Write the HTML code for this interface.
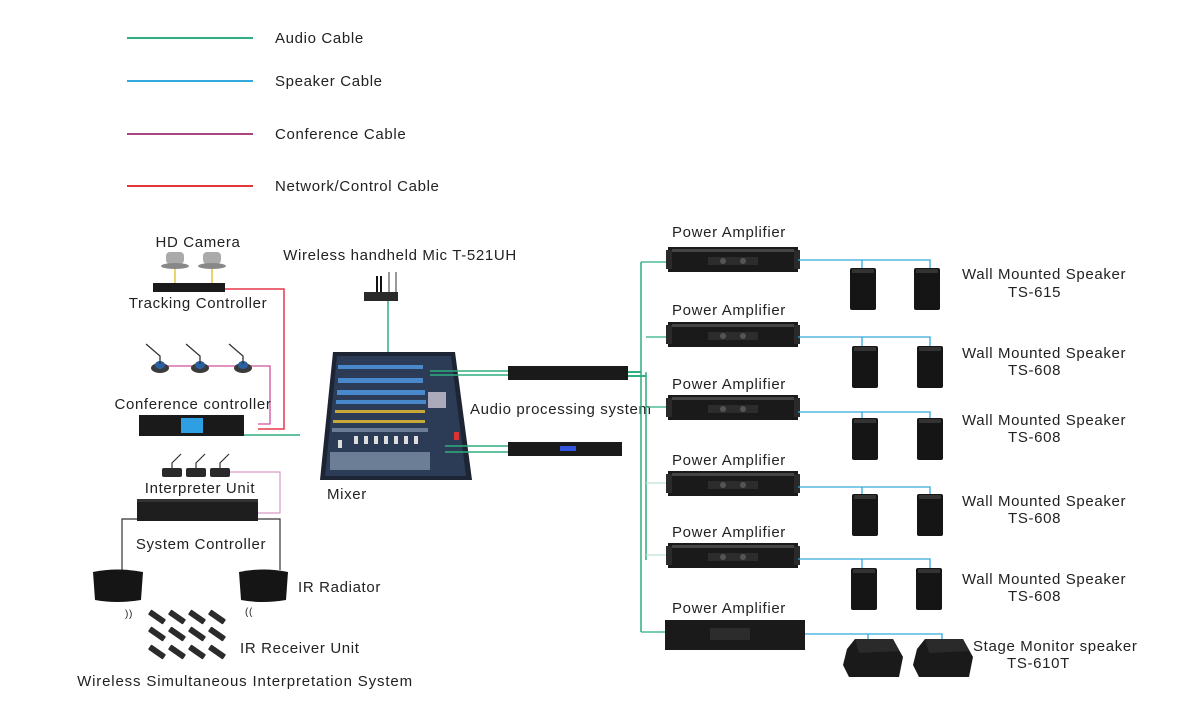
<!DOCTYPE html>
<html><head><meta charset="utf-8"><style>
html,body{margin:0;padding:0;background:#fff;}
svg{display:block;}
text{font-family:"Liberation Sans",sans-serif;font-size:15px;fill:#222;letter-spacing:0.65px;}
</style></head><body>
<svg width="1200" height="726" viewBox="0 0 1200 726" xmlns="http://www.w3.org/2000/svg">
<defs>
<g id="amp">
<rect x="0" y="0" width="130" height="25" fill="#1a1a1a"/>
<rect x="-2" y="3" width="6" height="19" fill="#2a2a2a"/>
<rect x="126" y="3" width="6" height="19" fill="#2a2a2a"/>
<rect x="4" y="2" width="122" height="3" fill="#444"/>
<rect x="40" y="10" width="50" height="8" fill="#2c2c2c"/>
<circle cx="55" cy="14" r="3" fill="#555"/><circle cx="75" cy="14" r="3" fill="#555"/>
</g>
<g id="spk">
<rect x="0" y="0" width="26" height="42" rx="2" fill="#151515"/>
<rect x="2" y="1" width="22" height="4" fill="#333"/>
</g>
<g id="mon">
<path d="M4 10 L12 0 L50 0 L60 18 L56 38 L6 38 L0 26 Z" fill="#1a1a1a"/>
<path d="M12 0 L50 0 L56 12 L16 14 Z" fill="#2a2a2a"/>
</g>
<g id="rcv">
<rect x="-9" y="-3" width="18" height="6" rx="1" fill="#2b2b2b" transform="rotate(35)"/>
</g>
<g id="cmic">
<ellipse cx="0" cy="8" rx="9" ry="5" fill="#3a3a3a"/>
<ellipse cx="0" cy="5" rx="5" ry="4" fill="#2a5fa0"/>
<path d="M0 4 L0 -4 L-14 -16" stroke="#333" stroke-width="1.3" fill="none"/>
</g>
<g id="imic">
<rect x="-10" y="0" width="20" height="9" rx="2" fill="#2a2a2a"/>
<path d="M0 1 L0 -5 L9 -14" stroke="#333" stroke-width="1.2" fill="none"/>
</g>
</defs>

<!-- legend -->
<line x1="127" y1="38" x2="253" y2="38" stroke="#2fae7f" stroke-width="2"/>
<line x1="127" y1="81" x2="253" y2="81" stroke="#33a9dd" stroke-width="2"/>
<line x1="127" y1="134" x2="253" y2="134" stroke="#a8447f" stroke-width="2"/>
<line x1="127" y1="186" x2="253" y2="186" stroke="#e2363d" stroke-width="2"/>
<text x="275" y="43">Audio Cable</text>
<text x="275" y="86">Speaker Cable</text>
<text x="275" y="139">Conference Cable</text>
<text x="275" y="191">Network/Control Cable</text>

<!-- HD camera / tracking -->
<text x="198" y="247" text-anchor="middle">HD Camera</text>
<g fill="#aaa"><rect x="166" y="252" width="18" height="12" rx="4"/><rect x="203" y="252" width="18" height="12" rx="4"/>
<ellipse cx="175" cy="266" rx="14" ry="3" fill="#888"/><ellipse cx="212" cy="266" rx="14" ry="3" fill="#888"/></g>
<line x1="175" y1="269" x2="175" y2="284" stroke="#e8c23a" stroke-width="1.5"/>
<line x1="212" y1="269" x2="212" y2="284" stroke="#e8c23a" stroke-width="1.5"/>
<rect x="153" y="283" width="72" height="9" fill="#1a1a1a"/>
<text x="198" y="308" text-anchor="middle">Tracking Controller</text>
<polyline points="225,289 284,289 284,429 258,429" fill="none" stroke="#e6384a" stroke-width="1.5"/>

<!-- conference -->
<polyline points="160,366 270,366 270,424 258,424" fill="none" stroke="#d0509a" stroke-width="1.3"/>
<use href="#cmic" x="160" y="360"/><use href="#cmic" x="200" y="360"/><use href="#cmic" x="243" y="360"/>
<text x="193" y="409" text-anchor="middle">Conference  controller</text>
<rect x="139" y="415" width="105" height="21" fill="#1a1a1a"/>
<rect x="181" y="418" width="22" height="15" fill="#2f9fe3"/>
<line x1="244" y1="435" x2="300" y2="435" stroke="#2fae7f" stroke-width="1.5"/>

<!-- wireless mic -->
<text x="400" y="260" text-anchor="middle">Wireless handheld Mic T-521UH</text>
<rect x="364" y="292" width="34" height="9" fill="#2a2a2a"/>
<line x1="377" y1="276" x2="377" y2="292" stroke="#111" stroke-width="2"/>
<line x1="381" y1="276" x2="381" y2="292" stroke="#111" stroke-width="2"/>
<line x1="389" y1="272" x2="389" y2="292" stroke="#333" stroke-width="1"/>
<line x1="396" y1="272" x2="396" y2="292" stroke="#333" stroke-width="1"/>
<line x1="388" y1="301" x2="388" y2="353" stroke="#2fae7f" stroke-width="1.5"/>

<!-- mixer -->
<polygon points="333,352 455,352 472,480 320,480" fill="#1d2434"/>
<polygon points="337,356 451,356 466,476 325,476" fill="#2c3b56"/>
<g fill="#4a88cc"><rect x="338" y="365" width="85" height="4"/><rect x="338" y="378" width="85" height="5"/><rect x="337" y="390" width="88" height="5"/><rect x="336" y="400" width="90" height="4"/></g>
<g fill="#c9a83a">
<rect x="335" y="410" width="90" height="3"/><rect x="333" y="420" width="92" height="3"/>
</g>
<g fill="#6c7d96"><rect x="332" y="428" width="96" height="4"/><rect x="330" y="452" width="100" height="18"/></g>
<rect x="428" y="392" width="18" height="16" fill="#aab"/>
<g fill="#ddd"><rect x="338" y="440" width="4" height="8"/><rect x="354" y="436" width="4" height="8"/><rect x="364" y="436" width="4" height="8"/><rect x="374" y="436" width="4" height="8"/><rect x="384" y="436" width="4" height="8"/><rect x="394" y="436" width="4" height="8"/><rect x="404" y="436" width="4" height="8"/><rect x="414" y="436" width="4" height="8"/></g>
<rect x="454" y="432" width="5" height="8" fill="#d33"/>
<text x="327" y="499">Mixer</text>

<!-- audio processing -->
<line x1="430" y1="371" x2="508" y2="371" stroke="#2fae7f" stroke-width="1.5"/>
<line x1="430" y1="375" x2="508" y2="375" stroke="#2fae7f" stroke-width="1.5"/>
<rect x="508" y="366" width="120" height="14" fill="#1a1a1a"/>
<text x="470" y="414">Audio processing system</text>
<line x1="445" y1="446" x2="508" y2="446" stroke="#2fae7f" stroke-width="1.5"/>
<line x1="445" y1="452" x2="508" y2="452" stroke="#2fae7f" stroke-width="1.5"/>
<rect x="508" y="442" width="114" height="14" fill="#1a1a1a"/>
<rect x="560" y="446" width="16" height="5" fill="#3355dd"/>

<!-- amp bus -->
<polyline points="628,372 641,372" stroke="#2fae7f" stroke-width="2" fill="none"/>
<polyline points="628,376 646,376" stroke="#2fae7f" stroke-width="2" fill="none"/>
<line x1="641" y1="262" x2="641" y2="632" stroke="#2fae7f" stroke-width="1.5"/>
<line x1="646" y1="372" x2="646" y2="560" stroke="#2fae7f" stroke-width="1.5"/>
<g stroke="#2fae7f" stroke-width="1.2">
<line x1="641" y1="262" x2="668" y2="262"/><line x1="646" y1="337" x2="668" y2="337"/>
<line x1="646" y1="407" x2="668" y2="407"/><line x1="646" y1="483" x2="668" y2="483" stroke="#bfe3d3"/>
<line x1="646" y1="555" x2="668" y2="555" stroke="#bfe3d3"/><line x1="641" y1="632" x2="665" y2="632"/>
</g>

<g>
<text x="672" y="237">Power Amplifier</text>
<text x="672" y="315">Power Amplifier</text>
<text x="672" y="389">Power Amplifier</text>
<text x="672" y="465">Power Amplifier</text>
<text x="672" y="537">Power Amplifier</text>
<text x="672" y="613">Power Amplifier</text>
</g>
<use href="#amp" x="668" y="247"/>
<use href="#amp" x="668" y="322"/>
<use href="#amp" x="668" y="395"/>
<use href="#amp" x="668" y="471"/>
<use href="#amp" x="668" y="543"/>
<rect x="665" y="620" width="140" height="30" fill="#1a1a1a"/>
<rect x="710" y="628" width="40" height="12" fill="#2c2c2c"/>

<!-- speaker cables -->
<g stroke="#33a9dd" stroke-width="1.3" fill="none">
<polyline points="798,260 930,260 930,268"/><line x1="862" y1="260" x2="862" y2="268"/>
<polyline points="798,337 930,337 930,346"/><line x1="862" y1="337" x2="862" y2="346"/>
<polyline points="798,412 930,412 930,418"/><line x1="862" y1="412" x2="862" y2="418"/>
<polyline points="798,487 930,487 930,494"/><line x1="862" y1="487" x2="862" y2="494"/>
<polyline points="798,559 930,559 930,568"/><line x1="862" y1="559" x2="862" y2="568"/>
<polyline points="805,634 942,634 942,640"/><line x1="868" y1="634" x2="868" y2="640"/>
</g>
<use href="#spk" x="850" y="268"/><use href="#spk" x="914" y="268"/>
<use href="#spk" x="852" y="346"/><use href="#spk" x="917" y="346"/>
<use href="#spk" x="852" y="418"/><use href="#spk" x="917" y="418"/>
<use href="#spk" x="852" y="494"/><use href="#spk" x="917" y="494"/>
<use href="#spk" x="851" y="568"/><use href="#spk" x="916" y="568"/>
<use href="#mon" x="843" y="639"/><use href="#mon" x="913" y="639"/>

<text x="962" y="279">Wall Mounted Speaker</text><text x="1008" y="297">TS-615</text>
<text x="962" y="358">Wall Mounted Speaker</text><text x="1008" y="375">TS-608</text>
<text x="962" y="425">Wall Mounted Speaker</text><text x="1008" y="442">TS-608</text>
<text x="962" y="506">Wall Mounted Speaker</text><text x="1008" y="523">TS-608</text>
<text x="962" y="584">Wall Mounted Speaker</text><text x="1008" y="601">TS-608</text>
<text x="973" y="651">Stage Monitor speaker</text><text x="1007" y="668">TS-610T</text>

<!-- interpretation -->
<polyline points="228,472 280,472 280,513 258,513" fill="none" stroke="#d79bc3" stroke-width="1.2"/>
<use href="#imic" x="172" y="468"/><use href="#imic" x="196" y="468"/><use href="#imic" x="220" y="468"/>
<text x="200" y="493" text-anchor="middle">Interpreter Unit</text>
<rect x="137" y="499" width="121" height="22" fill="#1e1e1e"/>
<rect x="137" y="499" width="121" height="3" fill="#333"/>
<text x="201" y="549" text-anchor="middle">System Controller</text>
<polyline points="137,519 122,519 122,570" fill="none" stroke="#333" stroke-width="1.2"/>
<polyline points="258,519 280,519 280,570" fill="none" stroke="#333" stroke-width="1.2"/>
<path d="M93 572 Q118 567 143 572 L141 600 Q117 604 95 600 Z" fill="#151515"/>
<path d="M239 572 Q263 567 288 572 L286 600 Q262 604 241 600 Z" fill="#151515"/>
<text x="298" y="592">IR Radiator</text>
<text x="125" y="617" style="font-size:10px">))</text>
<text x="245" y="615" style="font-size:10px">((</text>
<g>
<use href="#rcv" x="157" y="617"/><use href="#rcv" x="177" y="617"/><use href="#rcv" x="197" y="617"/><use href="#rcv" x="217" y="617"/>
<use href="#rcv" x="157" y="634"/><use href="#rcv" x="177" y="634"/><use href="#rcv" x="197" y="634"/><use href="#rcv" x="217" y="634"/>
<use href="#rcv" x="157" y="652"/><use href="#rcv" x="177" y="652"/><use href="#rcv" x="197" y="652"/><use href="#rcv" x="217" y="652"/>
</g>
<text x="240" y="653">IR Receiver Unit</text>
<text x="245" y="686" text-anchor="middle" style="letter-spacing:0.85px">Wireless Simultaneous Interpretation System</text>
</svg>
</body></html>
